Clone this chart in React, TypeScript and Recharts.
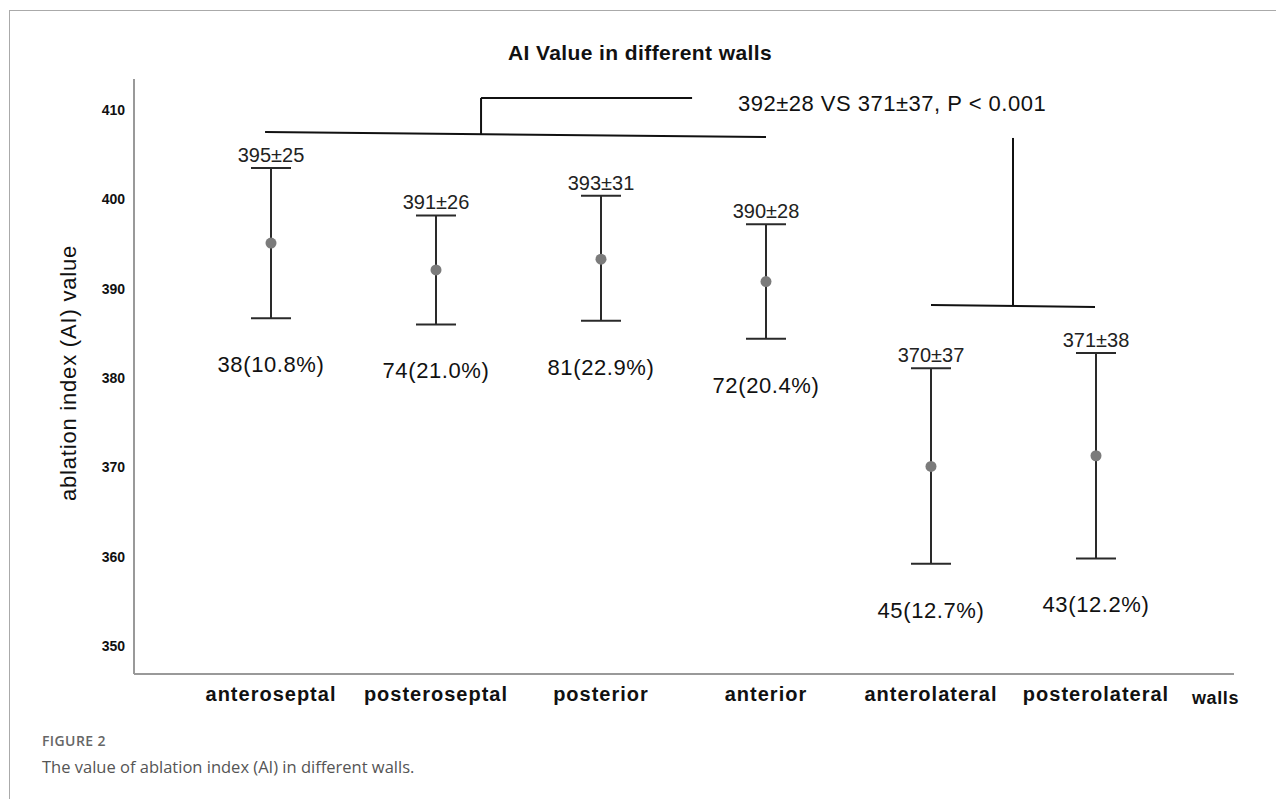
import React from 'react';
import {
  ComposedChart,
  Scatter,
  XAxis,
  YAxis,
  ErrorBar,
  ReferenceLine,
  ReferenceDot,
} from 'recharts';

// ---------- data ----------
const categories = ['anteroseptal', 'posteroseptal', 'posterior', 'anterior', 'anterolateral', 'posterolateral'];
const means = [395.1, 392.1, 393.3, 390.8, 370.1, 371.3];
const lowerCI = [386.7, 386.0, 386.4, 384.4, 359.2, 359.8];
const upperCI = [403.5, 398.2, 400.4, 397.2, 381.1, 382.8];
const meanSdLabels = ['395±25', '391±26', '393±31', '390±28', '370±37', '371±38'];
const countLabels = ['38(10.8%)', '74(21.0%)', '81(22.9%)', '72(20.4%)', '45(12.7%)', '43(12.2%)'];
const yTicks = [350, 360, 370, 380, 390, 400, 410];
const xTicks = categories.map((_, i) => i);

// significance brackets, in data units: [[x1, y1], [x2, y2]]
const bracketSegments: [number, number][][] = [
  [[-0.036, 407.54], [3.0, 406.98]],
  [[1.273, 407.3], [1.273, 411.35]],
  [[1.273, 411.35], [2.552, 411.35]],
  [[4.497, 406.87], [4.497, 388.17]],
  [[4.0, 388.17], [4.994, 387.95]],
];
const comparisonText = '392±28 VS 371±37, P < 0.001';
const comparisonAnchor = { x: 2.83, y: 409.9 };

const titleText = 'AI Value in different walls';
const yLabelText = 'ablation index (AI) value';
const xLabelText = 'walls';
const figureLabel = 'FIGURE 2';
const captionText = 'The value of ablation index (AI) in different walls.';

const rows = categories.map((c, i) => ({
  idx: i,
  name: c,
  mean: means[i],
  lower: lowerCI[i],
  upper: upperCI[i],
  err: [means[i] - lowerCI[i], upperCI[i] - means[i]],
  meanLabel: meanSdLabels[i],
  countLabel: countLabels[i],
}));

const FONT = 'Arial, "Liberation Sans", Helvetica, sans-serif';
const CAPTION_FONT = '"Open Sans", "Noto Sans", sans-serif';

const YTick = (props: any) => {
  const { x, y, payload } = props;
  return (
    <text x={x} y={y} dy={5} textAnchor="end" fontFamily={FONT} fontWeight="bold" fontSize={14} fill="#111">
      {payload.value}
    </text>
  );
};

const XTick = (props: any) => {
  const { x, y, payload } = props;
  return (
    <text x={x} y={y} dy={27} textAnchor="middle" fontFamily={FONT} fontWeight="bold" fontSize={20} letterSpacing={1} fill="#111">
      {categories[payload.value]}
    </text>
  );
};

const W = 1276;
const H = 720;

export default function App() {
  return (
    <div style={{ position: 'relative', width: W, height: 791, background: '#fff' }}>
      <ComposedChart
        width={W}
        height={H}
        data={rows}
        margin={{ top: 71, right: 50, bottom: 14, left: 66 }}
      >
        <XAxis
          dataKey="idx"
          type="number"
          domain={[-0.8303, 5.8364]}
          ticks={xTicks}
          tick={<XTick />}
          tickLine={false}
          tickSize={0}
          tickMargin={0}
          height={40}
          axisLine={{ stroke: '#999', strokeWidth: 2 }}
          interval={0}
        />
        <YAxis
          type="number"
          domain={[346.87, 413.47]}
          ticks={yTicks}
          tick={<YTick />}
          tickLine={false}
          tickSize={0}
          tickMargin={9}
          width={60}
          axisLine={{ stroke: '#999', strokeWidth: 2 }}
          interval={0}
        />
        {bracketSegments.map((seg, i) => (
          <ReferenceLine
            key={i}
            segment={[{ x: seg[0][0], y: seg[0][1] }, { x: seg[1][0], y: seg[1][1] }]}
            stroke="#111"
            strokeWidth={2}
            ifOverflow="visible"
          />
        ))}
        <ReferenceDot
          x={comparisonAnchor.x}
          y={comparisonAnchor.y}
          r={0}
          ifOverflow="visible"
          shape={(p: any) => (
            <text x={p.cx} y={p.cy} textAnchor="start" fontFamily={FONT} fontSize={22} letterSpacing={0.5} fill="#111">
              {comparisonText}
            </text>
          )}
        />
        <Scatter dataKey="mean" isAnimationActive={false} shape={() => <g />}>
          <ErrorBar dataKey="err" direction="y" width={20} stroke="#2a2a2a" strokeWidth={2} isAnimationActive={false} />
        </Scatter>
        <Scatter
          dataKey="mean"
          isAnimationActive={false}
          shape={(p: any) => <circle cx={p.cx} cy={p.cy} r={5.5} fill="#7b7b7b" />}
        />
        <Scatter
          dataKey="upper"
          isAnimationActive={false}
          shape={(p: any) => (
            <text x={p.cx} y={p.cy - 6} textAnchor="middle" fontFamily={FONT} fontSize={20} fill="#222">
              {p.payload.meanLabel}
            </text>
          )}
        />
        <Scatter
          dataKey="lower"
          isAnimationActive={false}
          shape={(p: any) => (
            <text x={p.cx} y={p.cy + 54} textAnchor="middle" fontFamily={FONT} fontSize={22} letterSpacing={0.6} fill="#111">
              {p.payload.countLabel}
            </text>
          )}
        />
      </ComposedChart>
      <svg
        width={W}
        height={791}
        style={{ position: 'absolute', left: 0, top: 0, pointerEvents: 'none' }}
      >
        <line x1={1} y1={2.5} x2={W} y2={2.5} stroke="#aaa" strokeWidth={1} />
        <line x1={1.5} y1={2} x2={1.5} y2={791} stroke="#aaa" strokeWidth={1} />
        <text x={632} y={52} textAnchor="middle" fontFamily={FONT} fontWeight="bold" fontSize={21} letterSpacing={0.4} fill="#111">
          {titleText}
        </text>
        <text
          x={60}
          y={365}
          transform="rotate(-90 60 365)"
          textAnchor="middle"
          dominantBaseline="central"
          fontFamily={FONT}
          fontSize={22}
          letterSpacing={0.8}
          fill="#111"
        >
          {yLabelText}
        </text>
        <text x={1184} y={696} fontFamily={FONT} fontWeight="bold" fontSize={18} letterSpacing={0.6} fill="#111">
          {xLabelText}
        </text>
        <text x={34} y={738} fontFamily={CAPTION_FONT} fontWeight={600} fontSize={14} letterSpacing={0.4} fill="#666">
          {figureLabel}
        </text>
        <text x={34} y={765} fontFamily={CAPTION_FONT} fontSize={16.5} fill="#555">
          {captionText}
        </text>
      </svg>
    </div>
  );
}
